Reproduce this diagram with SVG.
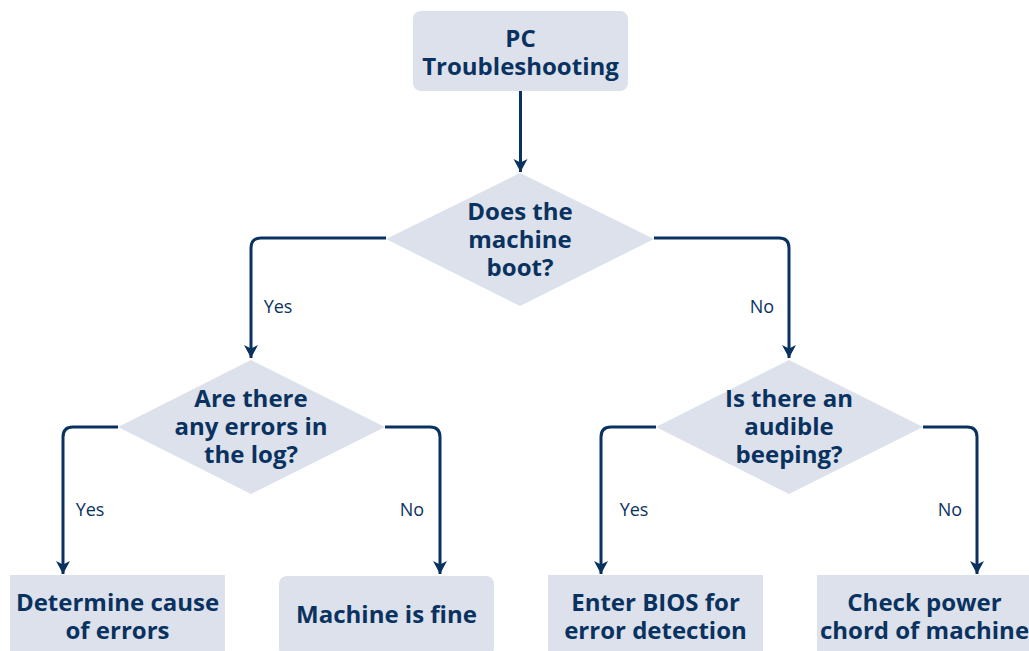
<svg xmlns="http://www.w3.org/2000/svg" width="1029" height="651" viewBox="0 0 1029 651">
  <defs>
    <style>
      .shape { fill: #dce1eb; }
      .t { font-family: "Open Sans", "Liberation Sans", sans-serif; font-weight: 700; font-size: 24px; fill: #0a3260; text-anchor: middle; }
      .lbl { font-family: "Open Sans", "Liberation Sans", sans-serif; font-weight: 400; font-size: 18px; fill: #0a3260; text-anchor: middle; }
      .conn { fill: none; stroke: #0a3260; stroke-width: 3; marker-end: url(#arr); }
    </style>
    <marker id="arr" markerUnits="userSpaceOnUse" markerWidth="16" markerHeight="16" refX="13" refY="7" orient="auto" viewBox="0 0 16 14">
      <path d="M0,0 L13,7 L0,14 L3.5,7 Z" fill="#0a3260"/>
    </marker>
  </defs>
  <rect width="1029" height="651" fill="#ffffff"/>

  <g id="connectors">
    <path class="conn" d="M520.5,91 V172"/>
    <path class="conn" d="M386,238 H261 Q251,238 251,248 V358"/>
    <path class="conn" d="M654,238 H779 Q789,238 789,248 V358"/>
    <path class="conn" d="M118,427 H73 Q63,427 63,437 V574"/>
    <path class="conn" d="M385,427 H430 Q440,427 440,437 V574"/>
    <path class="conn" d="M656,427 H611 Q601,427 601,437 V574"/>
    <path class="conn" d="M923,427 H967 Q977,427 977,437 V574"/>
  </g>

  <g id="labels">
    <text class="lbl" x="278" y="313">Yes</text>
    <text class="lbl" x="762" y="313">No</text>
    <text class="lbl" x="90" y="516">Yes</text>
    <text class="lbl" x="412" y="516">No</text>
    <text class="lbl" x="634" y="516">Yes</text>
    <text class="lbl" x="950" y="516">No</text>
  </g>

  <g id="start">
    <rect class="shape" x="413" y="11" width="215" height="80" rx="8"/>
    <text class="t" x="520.5" y="47">PC</text>
    <text class="t" x="520.5" y="75">Troubleshooting</text>
  </g>

  <g id="boot">
    <polygon class="shape" points="520,173 654,239 520,306 386,239"/>
    <text class="t" x="520" y="220">Does the</text>
    <text class="t" x="520" y="248">machine</text>
    <text class="t" x="520" y="276">boot?</text>
  </g>

  <g id="errors">
    <polygon class="shape" points="251,360 385,427 251,494 118,427"/>
    <text class="t" x="251" y="407">Are there</text>
    <text class="t" x="251" y="435">any errors in</text>
    <text class="t" x="251" y="463">the log?</text>
  </g>

  <g id="beeping">
    <polygon class="shape" points="789,360 923,427 789,494 656,427"/>
    <text class="t" x="789" y="407">Is there an</text>
    <text class="t" x="789" y="435">audible</text>
    <text class="t" x="789" y="463">beeping?</text>
  </g>

  <g id="cause">
    <rect class="shape" x="10" y="575" width="215" height="80"/>
    <text class="t" x="117.5" y="611">Determine cause</text>
    <text class="t" x="117.5" y="639">of errors</text>
  </g>

  <g id="fine">
    <rect class="shape" x="279" y="576" width="215" height="80" rx="8"/>
    <text class="t" x="386.5" y="623">Machine is fine</text>
  </g>

  <g id="bios">
    <rect class="shape" x="548" y="575" width="215" height="80"/>
    <text class="t" x="655.5" y="611">Enter BIOS for</text>
    <text class="t" x="655.5" y="639">error detection</text>
  </g>

  <g id="power">
    <rect class="shape" x="817" y="575" width="215" height="80"/>
    <text class="t" x="924.5" y="611">Check power</text>
    <text class="t" x="924.5" y="639">chord of machine</text>
  </g>
</svg>
